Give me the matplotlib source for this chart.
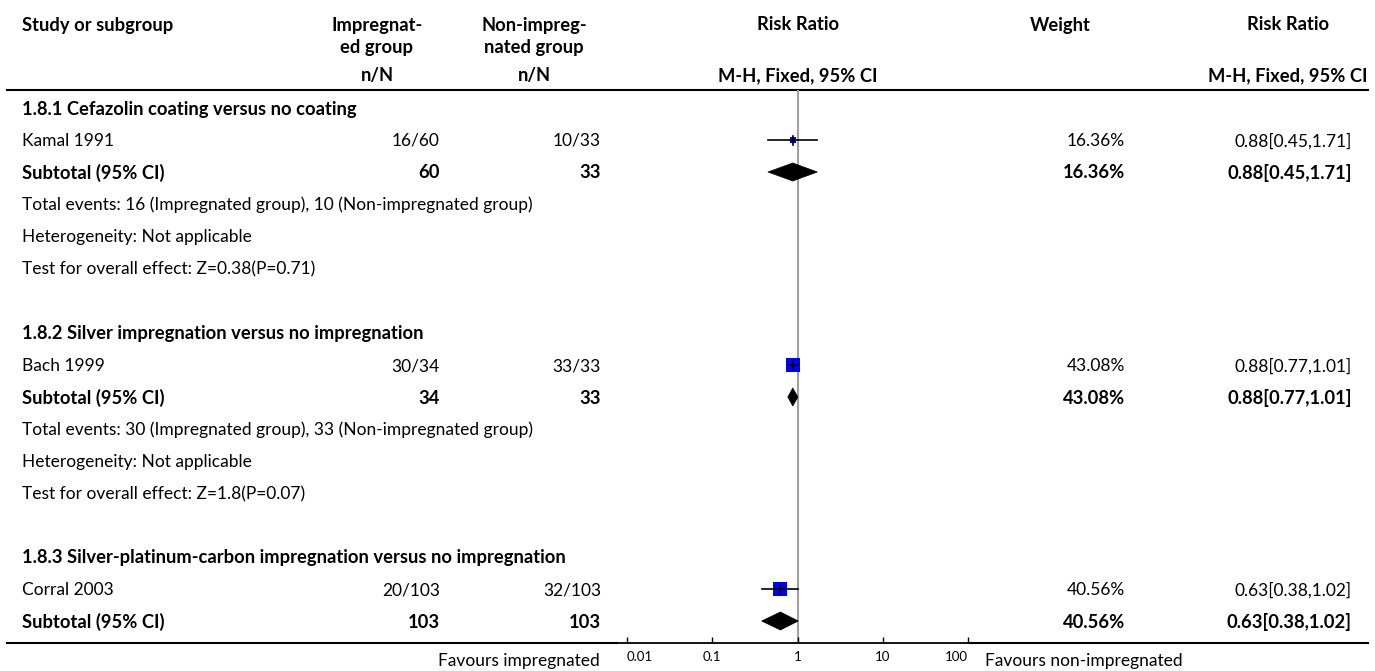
import matplotlib
matplotlib.use("Agg")
import matplotlib.pyplot as plt
from matplotlib.patches import Polygon
import numpy as np

plt.rcParams['font.family'] = ['Lato', 'DejaVu Sans']

# ---------------- data ----------------
subgroup_titles = ["1.8.1 Cefazolin coating versus no coating",
                   "1.8.2 Silver impregnation versus no impregnation",
                   "1.8.3 Silver-platinum-carbon impregnation versus no impregnation"]
studies = ["Kamal 1991", "Bach 1999", "Corral 2003"]
imp_events = [16, 30, 20]
imp_total = [60, 34, 103]
non_events = [10, 33, 32]
non_total = [33, 33, 103]
weights = [16.36, 43.08, 40.56]
rr = [0.88, 0.88, 0.63]
rr_lo = [0.45, 0.77, 0.38]
rr_hi = [1.71, 1.01, 1.02]
test_z = ["0.38", "1.8", None]
test_p = ["0.71", "0.07", None]
tick_vals = [0.01, 0.1, 1, 10, 100]
tick_labels = ["0.01", "0.1", "1", "10", "100"]

# ---------------- layout (pixel rows) ----------------
W, H = 1375, 671
fig = plt.figure(figsize=(W / 100, H / 100), dpi=100)
ax0 = fig.add_axes([0, 0, 1, 1])
ax0.set_xlim(0, W)
ax0.set_ylim(H, 0)
ax0.axis('off')

FS = 12.5
FSB = 13.2
x_study = 22
x_imp = 440
x_non = 601
x_imp_head = 377
x_non_head = 534
x_rr_head = 798
x_w = 1125
x_rr = 1352
x_w_head = 1060
x_rr2_head = 1288

# axis geometry
ax_left, ax_right = 617, 970
line_top, line_bot = 90, 643
px_per_dec = (968 - 627) / 4.0
x1 = 627 + 2 * px_per_dec
xmin = 10 ** ((ax_left - x1) / px_per_dec)
xmax = 10 ** ((ax_right - x1) / px_per_dec)

ax = fig.add_axes([ax_left / W, (H - line_bot) / H, (ax_right - ax_left) / W, (line_bot - line_top) / H])
ax.set_xscale('log')
ax.set_xlim(xmin, xmax)
ax.set_ylim(line_bot, line_top)
ax.patch.set_alpha(0)
for s in ['top', 'left', 'right']:
    ax.spines[s].set_visible(False)
ax.spines['bottom'].set_linewidth(1.3)
ax.set_yticks([])
ax.set_xticks(tick_vals)
ax.set_xticklabels(tick_labels, fontsize=9.5)
ax.xaxis.set_minor_locator(matplotlib.ticker.NullLocator())
ax.tick_params(axis='x', direction='in', length=4, width=1, pad=6)
labs = ax.get_xticklabels()
labs[0].set_ha('left')
labs[-1].set_ha('right')
ax.axvline(1, color='#a0a0a0', lw=1.5, zorder=1)


def txt(x, y, s, ha='left', bold=False):
    ax0.text(x, y + 1, s, ha=ha, va='center', fontsize=FSB if bold else FS,
             fontweight='bold' if bold else 'normal', color='black')


# header
txt(x_study, 24, "Study or subgroup", bold=True)
txt(x_imp_head, 24, "Impregnat-", ha='center', bold=True)
txt(x_imp_head, 47, "ed group", ha='center', bold=True)
txt(x_non_head, 24, "Non-impreg-", ha='center', bold=True)
txt(x_non_head, 47, "nated group", ha='center', bold=True)
txt(x_rr_head, 24, "Risk Ratio", ha='center', bold=True)
txt(x_w_head, 24, "Weight", ha='center', bold=True)
txt(x_rr2_head, 24, "Risk Ratio", ha='center', bold=True)
txt(x_imp_head, 75, "n/N", ha='center', bold=True)
txt(x_non_head, 75, "n/N", ha='center', bold=True)
txt(x_rr_head, 75, "M-H, Fixed, 95% CI", ha='center', bold=True)
txt(x_rr2_head, 75, "M-H, Fixed, 95% CI", ha='center', bold=True)
ax0.plot([7, 1368], [line_top, line_top], color='black', lw=1.5)
ax0.plot([7, ax_left], [line_bot, line_bot], color='black', lw=1.5)
ax0.plot([ax_right, 1368], [line_bot, line_bot], color='black', lw=1.5)

group_rows = [108, 333, 557]
for g in range(3):
    y0 = group_rows[g]
    txt(x_study, y0, subgroup_titles[g], bold=True)
    ys = y0 + 32
    ysub = y0 + 64
    # study row
    txt(x_study, ys, studies[g])
    txt(x_imp, ys, f"{imp_events[g]}/{imp_total[g]}", ha='right')
    txt(x_non, ys, f"{non_events[g]}/{non_total[g]}", ha='right')
    txt(x_w, ys, f"{weights[g]:.2f}%", ha='right')
    txt(x_rr, ys, f"{rr[g]:.2f}[{rr_lo[g]:.2f},{rr_hi[g]:.2f}]", ha='right')
    # subtotal row
    txt(x_study, ysub, "Subtotal (95% CI)", bold=True)
    txt(x_imp, ysub, f"{imp_total[g]}", ha='right', bold=True)
    txt(x_non, ysub, f"{non_total[g]}", ha='right', bold=True)
    txt(x_w, ysub, f"{weights[g]:.2f}%", ha='right', bold=True)
    txt(x_rr, ysub, f"{rr[g]:.2f}[{rr_lo[g]:.2f},{rr_hi[g]:.2f}]", ha='right', bold=True)
    if test_z[g] is not None:
        txt(x_study, y0 + 96, f"Total events: {imp_events[g]} (Impregnated group), {non_events[g]} (Non-impregnated group)")
        txt(x_study, y0 + 128, "Heterogeneity: Not applicable")
        txt(x_study, y0 + 160, f"Test for overall effect: Z={test_z[g]}(P={test_p[g]})")

    # forest marks
    side_px = weights[g] * 0.325
    ax.plot([rr[g]], [ys], marker='s', markersize=side_px * 0.72, color='#0000ff',
            markeredgewidth=0, linestyle='none', zorder=4)
    ax.plot([rr[g], rr[g]], [ys - 4.5, ys + 4.5], color='black', lw=1.2, zorder=5)
    ax.plot([rr_lo[g], rr_hi[g]], [ys, ys], color='black', lw=1.2, zorder=5)
    dia = Polygon([(rr_lo[g], ysub), (rr[g], ysub - 9), (rr_hi[g], ysub), (rr[g], ysub + 9)],
                  closed=True, facecolor='black', edgecolor='black', lw=0.5, zorder=4)
    ax.add_patch(dia)

ax0.text(600, 661, "Favours impregnated", ha='right', va='center', fontsize=FS)
ax0.text(985, 661, "Favours non-impregnated", ha='left', va='center', fontsize=FS)

fig.savefig("out.png", dpi=100)
